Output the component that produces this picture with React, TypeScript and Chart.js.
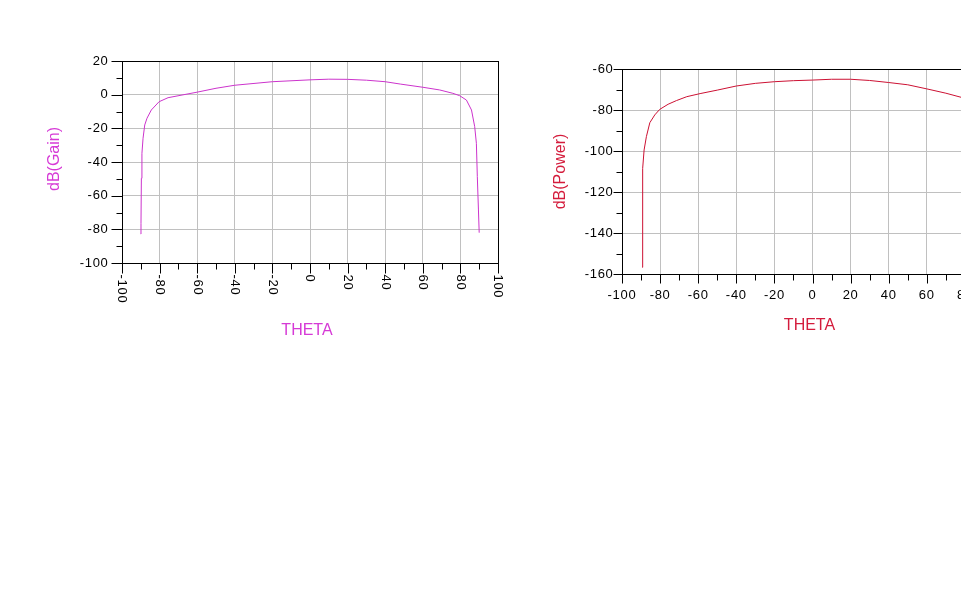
import React, { useEffect, useRef } from "react";
import { Chart, registerables } from "chart.js";

Chart.register(...registerables);

// ---- Data ----
const gainTheta = [-90, -89.9, -89.7, -89.4, -88.8, -87.9, -86.7, -84.4, -80.3, -75.5, -60, -50, -40, -20, 0, 10, 20, 30, 40, 48, 60, 69, 76, 79.6, 83.2, 85.9, 87.6, 88.5, 89, 89.6, 90];
const gainDb = [-82.8, -76.5, -49.7, -34.9, -25.9, -18, -14, -9.1, -4.2, -1.8, 1.5, 3.8, 5.6, 7.7, 8.8, 9.2, 9.1, 8.6, 7.7, 6.3, 4.4, 2.8, 0.8, -0.6, -3.2, -9.1, -19, -28.9, -48.7, -68.5, -82];

const powerTheta = [-89.5, -89.3, -89, -88.4, -87.2, -85.4, -82.8, -80.2, -75.8, -71.4, -66, -59, -50, -40, -30, -20, -10, 0, 10, 20, 30, 40, 50, 60, 70, 78, 80, 83, 86, 87.6, 88.5, 89, 89.6, 90];
const powerDb = [-156.7, -128.8, -108.5, -99.5, -93, -86.2, -82.4, -79.7, -77.2, -75.4, -73.5, -72, -70.3, -68.3, -67, -66.2, -65.7, -65.4, -65, -65, -65.6, -66.6, -67.7, -69.7, -71.8, -73.8, -74.5, -77, -83, -93, -103, -123, -143, -156];

const thetaTicks = [-100, -80, -60, -40, -20, 0, 20, 40, 60, 80, 100];
const gainTicks = [20, 0, -20, -40, -60, -80, -100];
const powerTicks = [-60, -80, -100, -120, -140, -160];

const FONT = "'Liberation Sans', Arial, sans-serif";

const axisDeco = {
  id: "axisDeco",
  afterDraw(chart: any) {
    const o = chart.options.plugins.axisDeco;
    const { ctx, chartArea, scales } = chart;
    const xs = scales.x;
    const ys = scales.y;
    const L = Math.round(chartArea.left) + 0.5;
    const R = Math.round(chartArea.right) + 0.5;
    const T = Math.round(chartArea.top) + 0.5;
    const B = Math.round(chartArea.bottom) + 0.5;
    ctx.save();
    ctx.strokeStyle = "#000";
    ctx.lineWidth = 1;
    ctx.strokeRect(L, T, R - L, B - T);

    ctx.fillStyle = "#000";
    ctx.font = `13px ${FONT}`;
    (ctx as any).letterSpacing = "0.7px";
    // y ticks
    const yMin = ys.min, yMax = ys.max;
    for (let v = yMin; v <= yMax + 0.001; v += o.minorY) {
      const py = Math.round(ys.getPixelForValue(v)) + 0.5;
      const major = o.yTicks.includes(Math.round(v));
      const len = major ? o.yMajorLen : o.minorLen;
      ctx.beginPath();
      ctx.moveTo(L - len, py);
      ctx.lineTo(L, py);
      ctx.stroke();
    }
    ctx.textAlign = "right";
    ctx.textBaseline = "middle";
    for (const v of o.yTicks) {
      const py = ys.getPixelForValue(v);
      ctx.fillText(String(v), L - o.yLabelGap, py);
    }
    // x ticks
    for (let v = xs.min; v <= xs.max + 0.001; v += o.minorX) {
      const px = Math.round(xs.getPixelForValue(v)) + 0.5;
      const major = o.xTicks.includes(Math.round(v));
      const len = major ? o.xMajorLen : o.minorLen;
      ctx.beginPath();
      ctx.moveTo(px, B);
      ctx.lineTo(px, B + len);
      ctx.stroke();
    }
    for (const v of o.xTicks) {
      const px = xs.getPixelForValue(v);
      if (o.rotated) {
        ctx.save();
        ctx.translate(px, B + o.xLabelOff);
        ctx.rotate(Math.PI / 2);
        ctx.textAlign = "left";
        ctx.textBaseline = "middle";
        ctx.fillText(String(v), 0, 0);
        ctx.restore();
      } else {
        ctx.textAlign = "center";
        ctx.textBaseline = "middle";
        ctx.fillText(String(v), px, B + o.xLabelOff);
      }
    }
    (ctx as any).letterSpacing = "0px";
    // titles
    ctx.fillStyle = o.titleColor;
    ctx.font = `16px ${FONT}`;
    ctx.textAlign = "center";
    ctx.textBaseline = "middle";
    ctx.fillText(o.xTitle, (chartArea.left + chartArea.right) / 2 + o.xTitleDx, B + o.xTitleOff);
    ctx.save();
    ctx.translate(L - o.yTitleOff, (chartArea.top + chartArea.bottom) / 2 + o.yTitleDy);
    ctx.rotate(-Math.PI / 2);
    ctx.fillText(o.yTitle, 0, 0);
    ctx.restore();
    ctx.restore();
  },
};

function makeConfig(
  xsArr: number[],
  ysArr: number[],
  color: string,
  yMin: number,
  yMax: number,
  yWidth: number,
  xHeight: number,
  padding: any,
  deco: any
): any {
  return {
    type: "line",
    data: {
      datasets: [
        {
          data: xsArr.map((x, i) => ({ x, y: ysArr[i] })),
          borderColor: color,
          borderWidth: 1,
          pointRadius: 0,
          tension: 0,
          fill: false,
        },
      ],
    },
    options: {
      animation: false,
      responsive: false,
      devicePixelRatio: 1,
      layout: { padding },
      plugins: {
        legend: { display: false },
        tooltip: { enabled: false },
        axisDeco: deco,
      },
      scales: {
        x: {
          type: "linear",
          min: -100,
          max: 100,
          ticks: { display: false, stepSize: 20 },
          grid: { color: "#c0c0c0", drawTicks: false, tickLength: 0 },
          border: { display: false },
          afterFit: (s: any) => {
            s.height = xHeight;
          },
        },
        y: {
          type: "linear",
          min: yMin,
          max: yMax,
          ticks: { display: false, stepSize: 20 },
          grid: { color: "#c0c0c0", drawTicks: false, tickLength: 0 },
          border: { display: false },
          afterFit: (s: any) => {
            s.width = yWidth;
          },
        },
      },
    },
    plugins: [axisDeco],
  };
}

export default function App() {
  const leftRef = useRef<HTMLCanvasElement>(null);
  const rightRef = useRef<HTMLCanvasElement>(null);

  useEffect(() => {
    Chart.defaults.font.family = FONT;
    const c1 = new Chart(
      leftRef.current as HTMLCanvasElement,
      makeConfig(gainTheta, gainDb, "#cc33cc", -100, 20, 122, 97, { left: 0, top: 61, right: 32, bottom: 0 }, {
        rotated: true,
        yTicks: gainTicks,
        xTicks: thetaTicks,
        minorX: 10,
        minorY: 10,
        yMajorLen: 11,
        xMajorLen: 10,
        minorLen: 6,
        yLabelGap: 14,
        xLabelOff: 11,
        xTitle: "THETA",
        yTitle: "dB(Gain)",
        titleColor: "#d63ad6",
        xTitleOff: 67,
        xTitleDx: -3,
        yTitleOff: 68,
        yTitleDy: -3,
      })
    );
    const c2 = new Chart(
      rightRef.current as HTMLCanvasElement,
      makeConfig(powerTheta, powerDb, "#cc1133", -160, -60, 82, 86, { left: 0, top: 69, right: 17, bottom: 0 }, {
        rotated: false,
        yTicks: powerTicks,
        xTicks: thetaTicks,
        minorX: 10,
        minorY: 10,
        yMajorLen: 9,
        xMajorLen: 9,
        minorLen: 6,
        yLabelGap: 9,
        xLabelOff: 21,
        xTitle: "THETA",
        yTitle: "dB(Power)",
        titleColor: "#d41c3c",
        xTitleOff: 51,
        xTitleDx: -3,
        yTitleOff: 62,
        yTitleDy: 0,
      })
    );
    return () => {
      c1.destroy();
      c2.destroy();
    };
  }, []);

  return (
    <div
      style={{
        position: "absolute",
        left: 0,
        top: 0,
        width: 961,
        height: 608,
        overflow: "hidden",
        background: "#fff",
      }}
    >
      <canvas ref={leftRef} width={530} height={360} style={{ position: "absolute", left: 0, top: 0 }} />
      <canvas ref={rightRef} width={480} height={360} style={{ position: "absolute", left: 540, top: 0 }} />
    </div>
  );
}
